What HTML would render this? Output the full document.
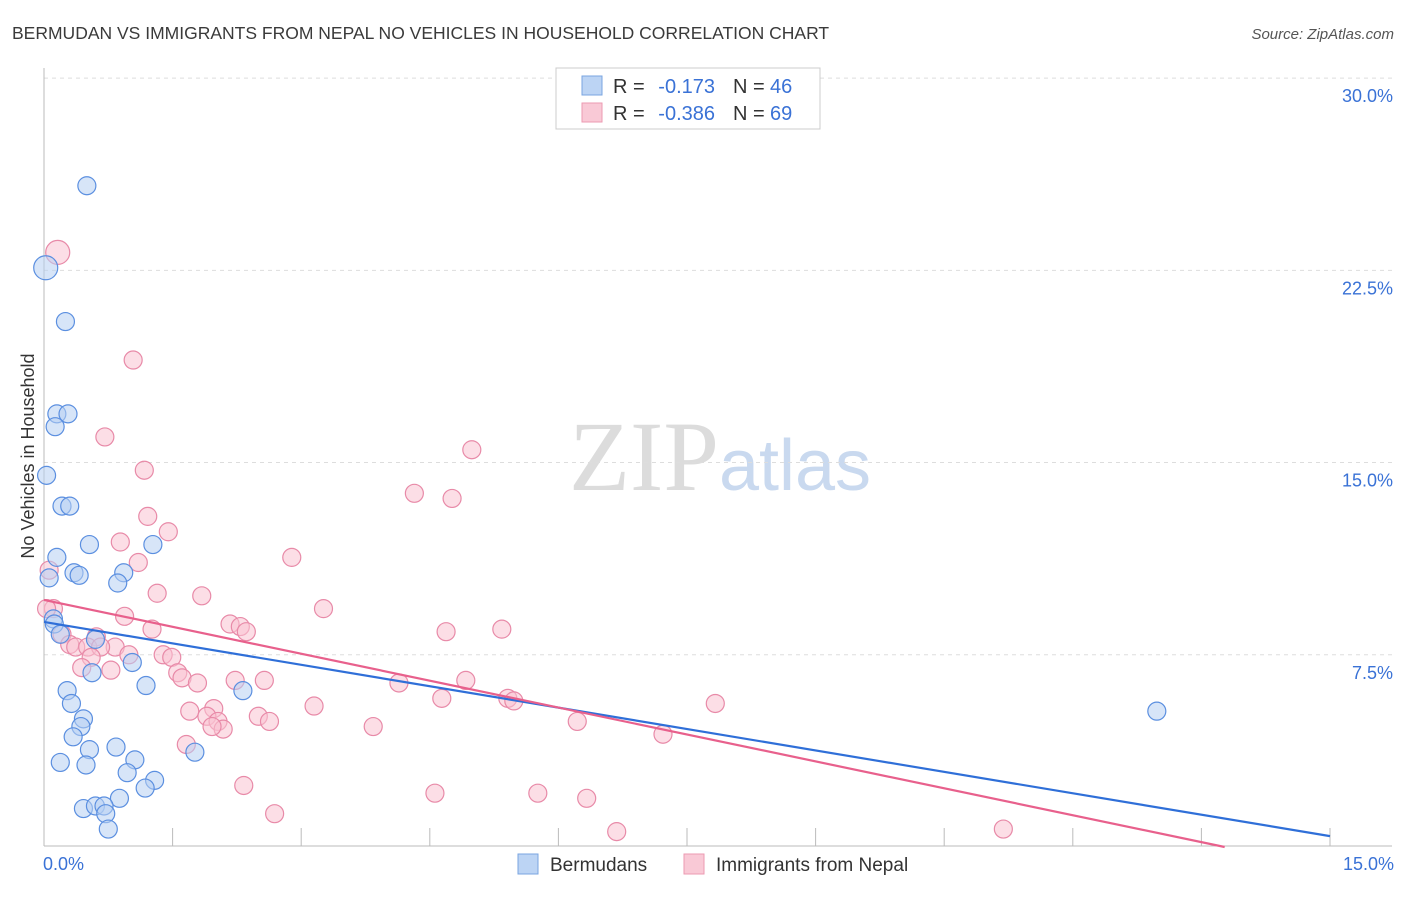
<!DOCTYPE html>
<html><head><meta charset="utf-8"><style>
body{margin:0;background:#fff;font-family:"Liberation Sans",sans-serif;}
</style></head><body>
<svg id="chart" width="1406" height="892" xmlns="http://www.w3.org/2000/svg" font-family="Liberation Sans, sans-serif">
<text x="12" y="39" font-size="17.5" fill="#3a3a3a">BERMUDAN VS IMMIGRANTS FROM NEPAL NO VEHICLES IN HOUSEHOLD CORRELATION CHART</text>
<text x="1394" y="39" font-size="15" fill="#555" text-anchor="end" font-style="italic">Source: ZipAtlas.com</text>
<text x="720" y="490" font-size="100" text-anchor="middle"><tspan fill="#dcdcdc" font-family="Liberation Serif, serif">ZIP</tspan><tspan fill="#c9d9ef" font-size="72">atlas</tspan></text>
<text transform="translate(34,456) rotate(-90)" font-size="18" fill="#333" text-anchor="middle">No Vehicles in Household</text>
<g id="grid"></g><g id="axes"></g><g id="pts"></g><g id="lines"></g>
<g font-size="20">
<rect x="556" y="68" width="264" height="61" fill="#fff" stroke="#ccc"/>
<rect x="582" y="76" width="20" height="19" fill="#bcd4f4" stroke="#7aa5e0"/>
<rect x="582" y="103" width="20" height="19" fill="#f9c9d6" stroke="#ec9ab2"/>
<text x="613" y="93" fill="#333">R =</text><text x="715" y="93" fill="#3a72d6" text-anchor="end">-0.173</text>
<text x="733" y="93" fill="#333">N =</text><text x="770" y="93" fill="#3a72d6">46</text>
<text x="613" y="120" fill="#333">R =</text><text x="715" y="120" fill="#3a72d6" text-anchor="end">-0.386</text>
<text x="733" y="120" fill="#333">N =</text><text x="770" y="120" fill="#3a72d6">69</text>
</g>
<g>
<rect x="518" y="854" width="20" height="20" fill="#bcd4f4" stroke="#7aa5e0"/>
<text x="550" y="871" font-size="19" fill="#333">Bermudans</text>
<rect x="684" y="854" width="20" height="20" fill="#f9c9d6" stroke="#ec9ab2"/>
<text x="716" y="871" font-size="19" fill="#333">Immigrants from Nepal</text>
</g>
</svg>
<script>
const yTicks=[7.5,15,22.5,30];
const yTickLabels=["7.5%","15.0%","22.5%","30.0%"];
const xTickLabels=["0.0%","15.0%"];
const blueX=[0.5,0.02,0.25,0.15,0.28,0.13,0.03,0.21,0.3,0.15,0.53,1.27,0.06,0.35,0.41,0.93,0.86,0.11,0.12,0.19,0.6,1.03,0.56,1.19,0.27,2.32,0.32,0.46,0.43,0.34,0.53,0.84,0.19,0.49,1.06,1.76,0.97,1.29,1.18,0.88,0.46,0.6,0.7,0.72,0.75,12.98];
const blueY=[25.8,22.6,20.5,16.9,16.9,16.4,14.5,13.3,13.3,11.3,11.8,11.8,10.5,10.7,10.6,10.7,10.3,8.9,8.7,8.3,8.1,7.2,6.8,6.3,6.1,6.1,5.6,5.0,4.7,4.3,3.8,3.9,3.3,3.2,3.4,3.7,2.9,2.6,2.3,1.9,1.5,1.6,1.6,1.3,0.7,5.3];
const pinkX=[0.16,1.04,0.71,1.17,4.99,4.32,4.76,1.21,1.45,0.89,2.89,1.1,0.06,1.32,1.84,3.26,0.94,0.11,1.26,2.17,2.29,2.36,4.69,5.34,0.21,0.61,0.3,0.37,0.83,0.51,0.66,0.55,0.99,1.39,1.49,0.44,0.78,1.56,1.61,1.79,2.23,2.57,4.14,4.92,5.41,5.48,4.64,3.15,1.98,1.70,1.9,2.03,2.09,1.96,2.5,2.63,3.84,6.22,7.83,7.22,1.66,2.33,4.56,5.76,6.33,2.69,6.68,11.19,0.03];
const pinkY=[23.2,19.0,16.0,14.7,15.5,13.8,13.6,12.9,12.3,11.9,11.3,11.1,10.8,9.9,9.8,9.3,9.0,9.3,8.5,8.7,8.6,8.4,8.4,8.5,8.3,8.2,7.9,7.8,7.8,7.8,7.8,7.4,7.5,7.5,7.4,7.0,6.9,6.8,6.6,6.4,6.5,6.5,6.4,6.5,5.8,5.7,5.8,5.5,5.4,5.3,5.1,4.9,4.6,4.7,5.1,4.9,4.7,4.9,5.6,4.4,4.0,2.4,2.1,2.1,1.9,1.3,0.6,0.7,9.3];
const blueFit=[8.78,-0.557];
const pinkFit=[9.64,-0.70];
const NS="http://www.w3.org/2000/svg";
const X0=44,X1=1330,YB=847,YPX=25.63;
const sx=v=>X0+(X1-X0)*v/15, sy=v=>YB-v*YPX;
function mk(t,a,p){const e=document.createElementNS(NS,t);for(const k in a)e.setAttribute(k,a[k]);p.appendChild(e);return e;}
const grid=document.getElementById('grid'),axes=document.getElementById('axes');
yTicks.forEach((t,i)=>{
 const l=mk('line',{x1:X0,x2:1392,y1:sy(t),y2:sy(t),stroke:'#ddd','stroke-dasharray':'4 4'},grid);
 
 
 const tx=mk('text',{x:1393,y:sy(t)+24,'font-size':18,fill:'#3a72d6','text-anchor':'end'},axes);tx.textContent=yTickLabels[i];
 
 
});
const ax=mk('line',{x1:X0,x2:X0,y1:68,y2:846,stroke:'#bbb'},axes);


const bx=mk('line',{x1:X0,x2:1392,y1:846,y2:846,stroke:'#bbb'},axes);


for(let i=1;i<=10;i++){const t=mk('line',{x1:sx(i*1.5),x2:sx(i*1.5),y1:828,y2:846,stroke:'#bbb'},axes);
 
 }
[[X0-1,'start',0],[1394,'end',1]].forEach(([x,a,i])=>{const t=mk('text',{x:x,y:870,'font-size':18,fill:'#3a72d6','text-anchor':a},axes);t.textContent=xTickLabels[i];
 
 });
const pts=document.getElementById('pts');
function drawPts(xs,ys,f,s,n){xs.forEach((x,i)=>{const r=(i==0&&n=='nepal-point')||(i==1&&n=='bermudan-point')?12:9;
 const c=mk('circle',{cx:sx(x),cy:sy(ys[i]),r:r,fill:f,'fill-opacity':0.55,stroke:s,'stroke-width':1.2},pts);
 
 });}
drawPts(pinkX,pinkY,'#f9c2d2','#e88aa8','nepal-point');
drawPts(blueX,blueY,'#b7cff2','#5b8fe0','bermudan-point');
const lines=document.getElementById('lines');
function fit(f,c,n){let xe=15;if(f[0]+f[1]*15<0)xe=-f[0]/f[1];
 const l=mk('line',{x1:sx(0),y1:sy(f[0]),x2:sx(xe),y2:sy(f[0]+f[1]*xe),stroke:c,'stroke-width':2.2},lines);
 
 }
fit(blueFit,'#2f6fd8','bermudan-trend-line');
fit(pinkFit,'#e8608c','nepal-trend-line');
</script>
</body></html>
